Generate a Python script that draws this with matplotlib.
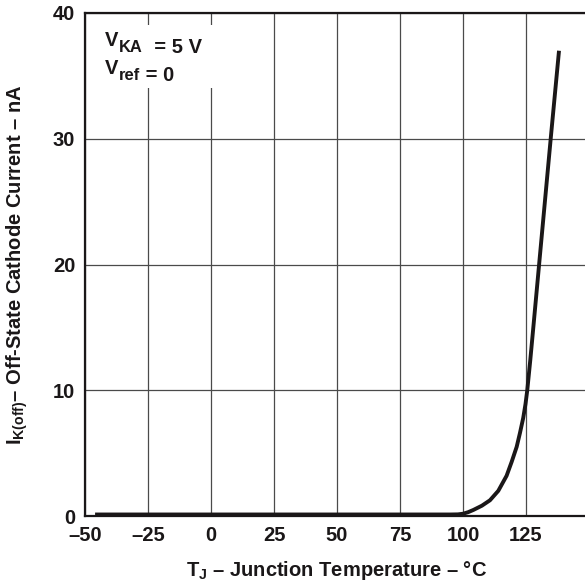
import matplotlib
matplotlib.use("Agg")
import matplotlib.pyplot as plt
from matplotlib.patches import Rectangle

plt.rcParams['font.family'] = ['Liberation Sans', 'DejaVu Sans']
plt.rcParams['font.weight'] = 'bold'
plt.rcParams['mathtext.fontset'] = 'custom'
plt.rcParams['mathtext.rm'] = 'Liberation Sans:bold'
plt.rcParams['mathtext.bf'] = 'Liberation Sans:bold'
plt.rcParams['mathtext.it'] = 'Liberation Sans:bold'

# Off-state cathode current vs junction temperature
temperature_c = [-46, 0, 50, 95, 98, 100, 102, 104.1, 107.5, 110.7, 114, 117.3,
                 119.3, 121.3, 122.6, 123.9, 124.8, 125.5, 126.7, 128, 130.2,
                 132.5, 134.8, 138.1]
current_na = [0.12, 0.12, 0.12, 0.12, 0.13, 0.18, 0.3, 0.48, 0.82, 1.25, 2.0,
              3.2, 4.3, 5.5, 6.6, 7.8, 8.9, 10.0, 12.4, 15.2, 20.0, 25.0,
              30.0, 37.0]

x_ticks = [-50, -25, 0, 25, 50, 75, 100, 125, 150]
x_tick_labels = ['\u201350', '\u201325', '0', '25', '50', '75', '100', '125', '']
y_ticks = [0, 10, 20, 30, 40]
y_tick_labels = ['0', '10', '20', '30', '40']

FS = 14.5
INK = '#1a1718'

fig = plt.figure(figsize=(5.85, 5.86), dpi=100)
ax = fig.add_axes([85 / 585, 70 / 586, (589 - 85) / 585, (516 - 13) / 586])

ax.plot(temperature_c, current_na, color=INK, lw=2.8,
        solid_capstyle='butt', solid_joinstyle='round', zorder=3)

ax.set_xlim(-50, 150)
ax.set_ylim(0, 40)
ax.set_xticks(x_ticks)
ax.set_xticklabels(x_tick_labels)
ax.set_yticks(y_ticks)
ax.set_yticklabels(y_tick_labels)
ax.tick_params(length=0, labelsize=FS, colors=INK)
ax.tick_params(axis='y', pad=7)
ax.tick_params(axis='x', pad=7)
ax.grid(True, color='#4a4a4a', lw=0.9)
ax.set_axisbelow(True)

for side in ('left', 'bottom', 'top'):
    ax.spines[side].set_linewidth(1.6)
    ax.spines[side].set_color(INK)
ax.spines['right'].set_visible(False)

ax.set_xlabel('T$_\\mathregular{J}$ \u2013 Junction Temperature \u2013 \u00b0C',
              fontsize=FS, fontweight='bold', color=INK)
ax.xaxis.set_label_coords(0.5, -0.085)
ax.set_ylabel('I$_\\mathregular{K(off)}$\u2013 Off-State Cathode Current \u2013 nA',
              fontsize=FS, fontweight='bold', color=INK)
ax.yaxis.set_label_coords(-0.11, 0.5)

# Condition box in the upper-left corner
ax.add_patch(Rectangle((0.02, 0.851), 0.25, 0.125, transform=ax.transAxes,
                       facecolor='white', edgecolor='none', zorder=2))

def subscripted(x, y, main, sub, tail):
    t1 = ax.text(x, y, main, transform=ax.transAxes, fontsize=FS,
                 fontweight='bold', color=INK, va='baseline', ha='left', zorder=4)
    t2 = ax.annotate(sub, xy=(1, 0), xycoords=t1, xytext=(0.5, -1.5),
                     textcoords='offset points', fontsize=FS * 0.82,
                     fontweight='bold', color=INK, va='baseline', ha='left',
                     zorder=4)
    ax.annotate(tail, xy=(1, 0), xycoords=t2, xytext=(0, 1.5),
                textcoords='offset points', fontsize=FS, fontweight='bold',
                color=INK, va='baseline', ha='left', zorder=4)

subscripted(0.04, 0.935, 'V', 'KA', '  = 5 V')
subscripted(0.04, 0.879, 'V', 'ref', ' = 0')

fig.savefig('out.png', dpi=100)
